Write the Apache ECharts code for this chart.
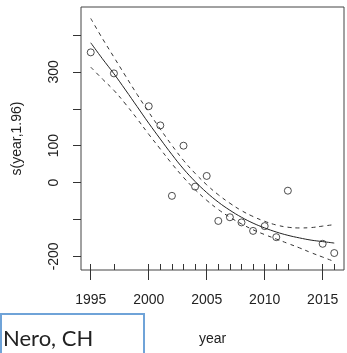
<!DOCTYPE html>
<html><head><meta charset="utf-8">
<script src="https://cdn.jsdelivr.net/npm/echarts@6/dist/echarts.min.js"></script>
<style>html,body{margin:0;padding:0;background:#fff}#c{width:347px;height:353px}</style>
</head><body><div id="c"></div>
<script>
// Observed residual points
const pointYears = [1995, 1997, 2000, 2001, 2002, 2003, 2004, 2005, 2006, 2007, 2008, 2009, 2010, 2011, 2012, 2015, 2016];
const pointValues = [353, 296, 207, 155, -36, 100, -11, 18, -104, -94, -108, -131, -118, -148, -22, -166, -191];
// Smooth fit and confidence band
const curveYears = [1995,1996,1997,1998,1999,2000,2001,2002,2003,2004,2005,2006,2007,2008,2009,2010,2011,2012,2013,2014,2015,2016];
const fitValues = [379,336,295,251,206,161,118,76,37,3,-27,-53,-75,-94,-110,-123,-134,-143,-150,-156,-160,-164];
const upperValues = [445,391,340,289,239,191,145,101,60,25,-6,-33,-56,-76,-92,-105,-115,-121,-123,-122,-118,-114];
const lowerValues = [313,281,250,213,173,131,91,51,14,-19,-48,-73,-94,-112,-128,-141,-153,-165,-177,-190,-202,-214];
// Axis ticks
const xTickLabels = [1995, 2000, 2005, 2010, 2015];
const yTicks = [-200, -100, 0, 100, 200, 300, 400];
const yTickLabels = [-200, 0, 100, 300];

const font = '"Liberation Sans", Arial, sans-serif';
const chart = echarts.init(document.getElementById('c'));
const pair = (xs, ys) => xs.map((x, i) => [x, ys[i]]);
chart.setOption({
  animation: false,
  grid: {left: 81, right: 3, top: 7, bottom: 83, show: true, borderColor: '#444', borderWidth: 1,
         backgroundColor: 'transparent', outerBoundsMode: 'none'},
  xAxis: [{
    type: 'value', min: 1994.16, max: 2016.84, position: 'bottom',
    axisLine: {show: false, onZero: false}, splitLine: {show: false},
    axisTick: {show: true, length: 10, customValues: xTickLabels, lineStyle: {color: '#333'}},
    axisLabel: {customValues: xTickLabels, margin: 23, color: '#222', fontSize: 14, fontFamily: font, formatter: v => String(v)},
    name: 'year', nameLocation: 'middle', nameGap: 62,
    nameTextStyle: {color: '#222', fontSize: 14, fontFamily: font}
  }, {
    type: 'value', min: 1994.16, max: 2016.84, position: 'bottom', offset: 0,
    axisLine: {show: false, onZero: false}, splitLine: {show: false},
    axisTick: {show: true, inside: true, length: 6, customValues: pointYears, lineStyle: {color: '#333'}},
    axisLabel: {show: true, customValues: pointYears, formatter: () => '', color: 'transparent'}
  }],
  yAxis: {
    type: 'value', min: -237, max: 476,
    axisLine: {show: false, onZero: false}, splitLine: {show: false},
    axisTick: {show: true, length: 8, customValues: yTicks, lineStyle: {color: '#333'}},
    axisLabel: {customValues: yTickLabels, rotate: 90, margin: 20, color: '#222', fontSize: 14, fontFamily: font},
    name: 's(year,1.96)', nameLocation: 'middle', nameRotate: 90, nameGap: 57,
    nameTextStyle: {color: '#222', fontSize: 14, fontFamily: font}
  },
  series: [
    {type: 'line', data: pair(curveYears, fitValues), smooth: 0.4, showSymbol: false, lineStyle: {color: '#222', width: 1}},
    {type: 'line', data: pair(curveYears, upperValues), smooth: 0.4, showSymbol: false, lineStyle: {color: '#333', width: 1, type: [4, 4]}},
    {type: 'line', data: pair(curveYears, lowerValues), smooth: 0.4, showSymbol: false, lineStyle: {color: '#333', width: 1, type: [4, 4]}},
    {type: 'scatter', data: pair(pointYears, pointValues), symbol: 'circle', symbolSize: 7,
     itemStyle: {color: 'transparent', borderColor: '#222', borderWidth: 1}}
  ],
  graphic: [
    {type: 'rect', left: 0, top: 313, shape: {width: 143, height: 45}, style: {fill: '#fff', stroke: '#6fa3d8', lineWidth: 2}},
    {type: 'text', left: 3, top: 328, style: {text: 'Nero, CH', fill: '#222', font: '22px Lato, "Open Sans", sans-serif'}}
  ]
});
</script></body></html>
